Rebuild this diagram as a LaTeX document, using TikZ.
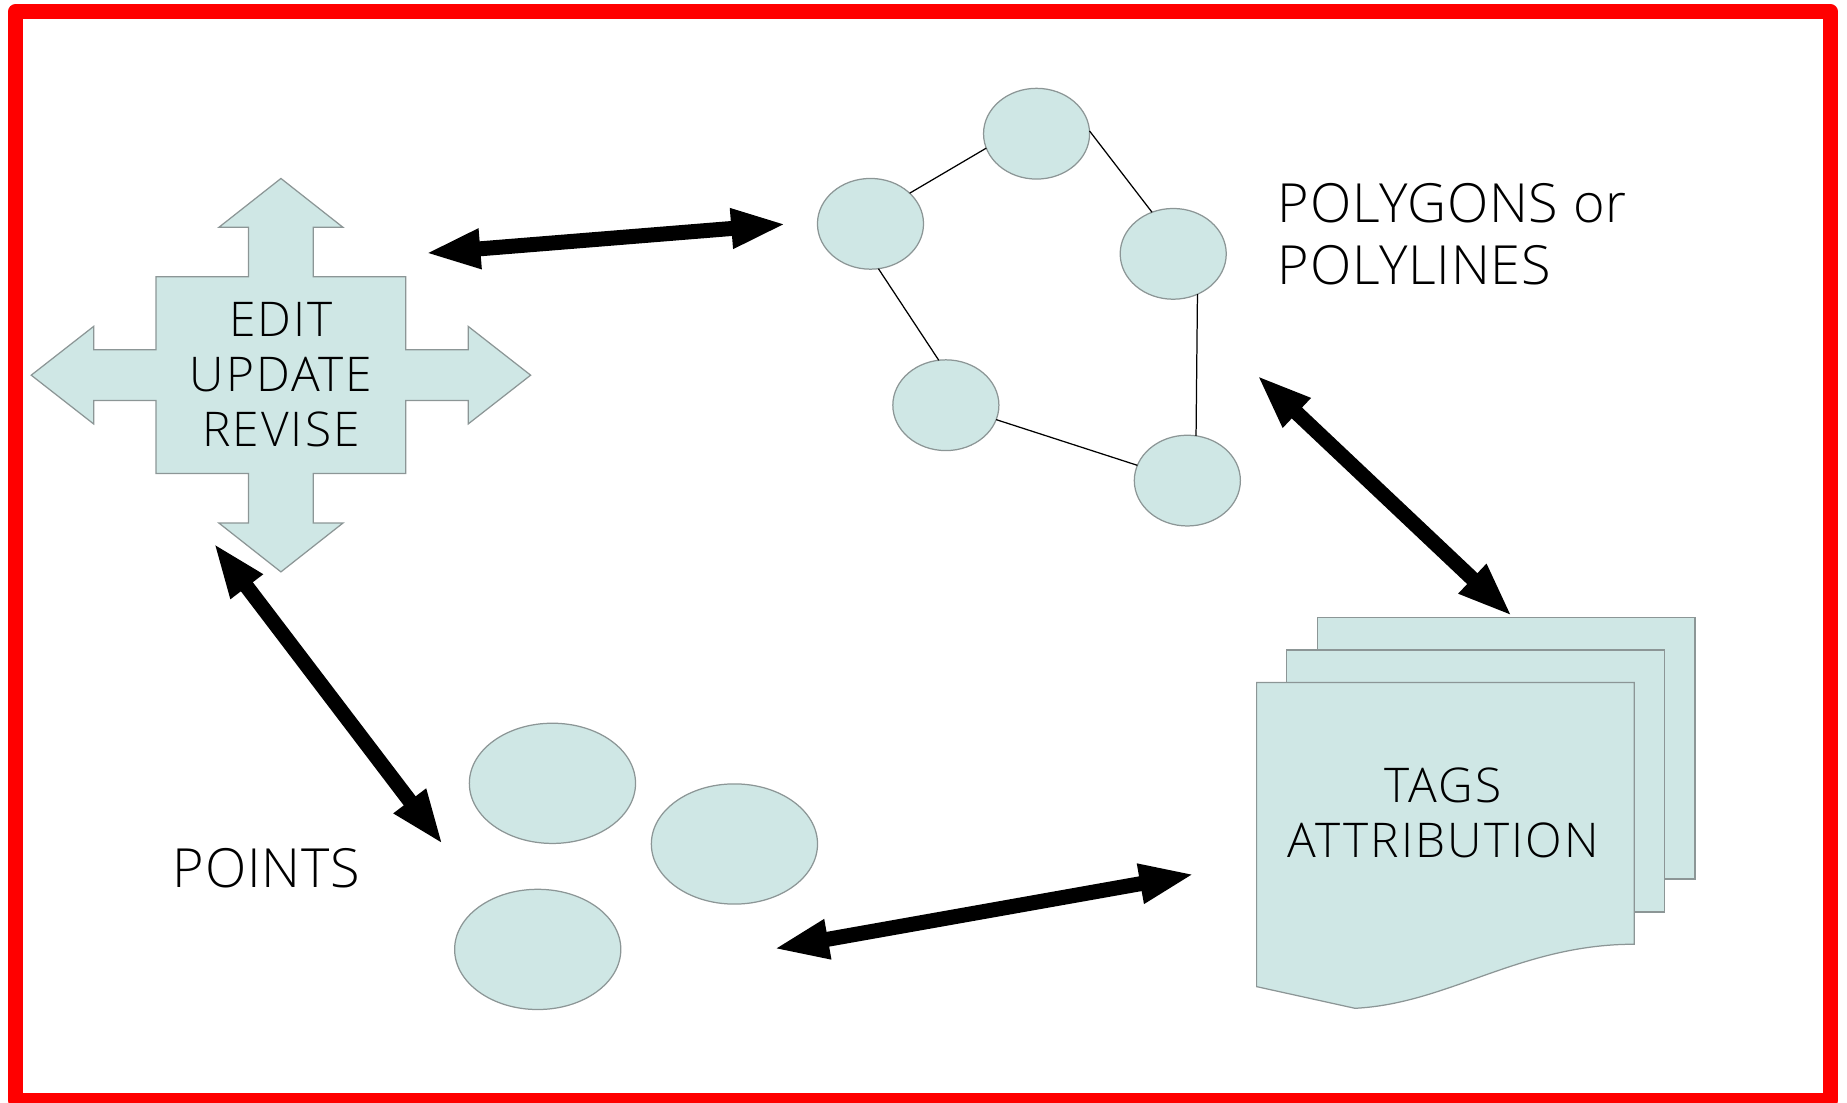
\documentclass[tikz,border=0pt]{standalone}
\usepackage{fontspec}
\setmainfont{Open Sans Light}
\newfontfamily\boxfont{Open Sans Light}[LetterSpace=4.5]
\newfontfamily\sidefont{Open Sans Light}[LetterSpace=1.5]
\usetikzlibrary{arrows.meta,shapes.geometric}
\definecolor{shapeFill}{RGB}{207,231,229}
\definecolor{shapeLine}{RGB}{140,150,150}

\tikzset{
  blob/.style={ellipse, fill=shapeFill, draw=shapeLine, line width=0.3pt,
    inner sep=0pt, outer sep=0pt, minimum width=0.9cm, minimum height=0.77cm},
  bigblob/.style={blob, minimum width=1.41cm, minimum height=1.02cm},
  sheet/.style={fill=shapeFill, draw=shapeLine, line width=0.3pt},
  link/.style={line width=0.3pt},
  twoway/.style={line width=0.127cm,
    {Triangle[length=0.47cm,width=0.31cm]}-{Triangle[length=0.47cm,width=0.31cm]}},
  smalltext/.style={inner sep=0pt, align=center, font=\boxfont\fontsize{11.55pt}{13.37pt}\selectfont},
  bigtext/.style={inner sep=0pt, align=left, font=\sidefont\fontsize{13.03pt}{14.8pt}\selectfont}
}

\begin{document}
\begin{tikzpicture}[x=0.01cm, y=-0.01cm]

  \useasboundingbox (0,0) rectangle (1568,936);

  % frame
  \draw[red, line width=0.127cm, line join=round] (13,10) rectangle (1554,934);

  % the four-way arrow
  \begin{scope}[shift={(238.5,318.5)}]
    \filldraw[sheet] (0,-167) -- (52.7,-125.5) -- (27.5,-125.5) -- (27.5,-83.5)
      -- (106,-83.5) -- (106,-21.5) -- (159,-21.5) -- (159,-41.4) -- (212,0)
      -- (159,41.4) -- (159,21.5) -- (106,21.5) -- (106,83.5) -- (27.5,83.5)
      -- (27.5,125.5) -- (52.7,125.5) -- (0,167) -- (-52.7,125.5) -- (-27.5,125.5)
      -- (-27.5,83.5) -- (-106,83.5) -- (-106,21.5) -- (-159,21.5) -- (-159,41.4)
      -- (-212,0) -- (-159,-41.4) -- (-159,-21.5) -- (-106,-21.5) -- (-106,-83.5)
      -- (-27.5,-83.5) -- (-27.5,-125.5) -- (-52.7,-125.5) -- cycle;
  \end{scope}
  \node[smalltext] (edit) at (238.5,318) {EDIT\\UPDATE\\REVISE};

  % polygon vertices
  \node[blob] (A) at (880,113.5) {};
  \node[blob] (B) at (739,190) {};
  \node[blob] (C) at (996,215.5) {};
  \node[blob] (D) at (803,344) {};
  \node[blob] (E) at (1008,408) {};

  \draw[link] (B.38) -- (A.196);
  \draw[link] (A.3) -- (C.117);
  \draw[link] (C.-59) -- (E.79);
  \draw[link] (B.-80) -- (D.99);
  \draw[link] (D.-16) -- (E.163);

  \node[bigtext, anchor=west] (polys) at (1084,198.7) {POLYGONS or\\POLYLINES};

  % points
  \node[bigblob] (P1) at (469,665) {};
  \node[bigblob] (P2) at (623.5,716.5) {};
  \node[bigblob] (P3) at (456.5,806) {};
  \node[bigtext, anchor=base west] (points) at (146,753.5) {POINTS};

  % stack of tag sheets
  \filldraw[sheet] (1118.3,524) rectangle (1438.9,746.2);
  \filldraw[sheet] (1092.3,551.8) rectangle (1413.1,774.2);
  \filldraw[sheet] (1066.8,579.5) -- (1387.4,579.5) -- (1387.4,801.6)
    .. controls (1290,801.6) and (1230,852) .. (1150.3,856)
    -- (1066.8,837.6) -- cycle;
  \node[smalltext] (tags) at (1225.2,690) {TAGS\\ATTRIBUTION};

  % two-way arrows
  \coordinate (e1) at (360.8,215);
  \coordinate (p1) at (667.8,190.2);
  \coordinate (p2) at (1066.8,318.3);
  \coordinate (t2) at (1284.1,523.5);
  \coordinate (e3) at (181.1,460.7);
  \coordinate (o3) at (376.3,717.3);
  \coordinate (o4) at (656.5,805.6);
  \coordinate (t4) at (1014.4,742);

  \draw[twoway] (e1) -- (p1);
  \draw[twoway] (p2) -- (t2);
  \draw[twoway] (e3) -- (o3);
  \draw[twoway] (o4) -- (t4);

\end{tikzpicture}
\end{document}
